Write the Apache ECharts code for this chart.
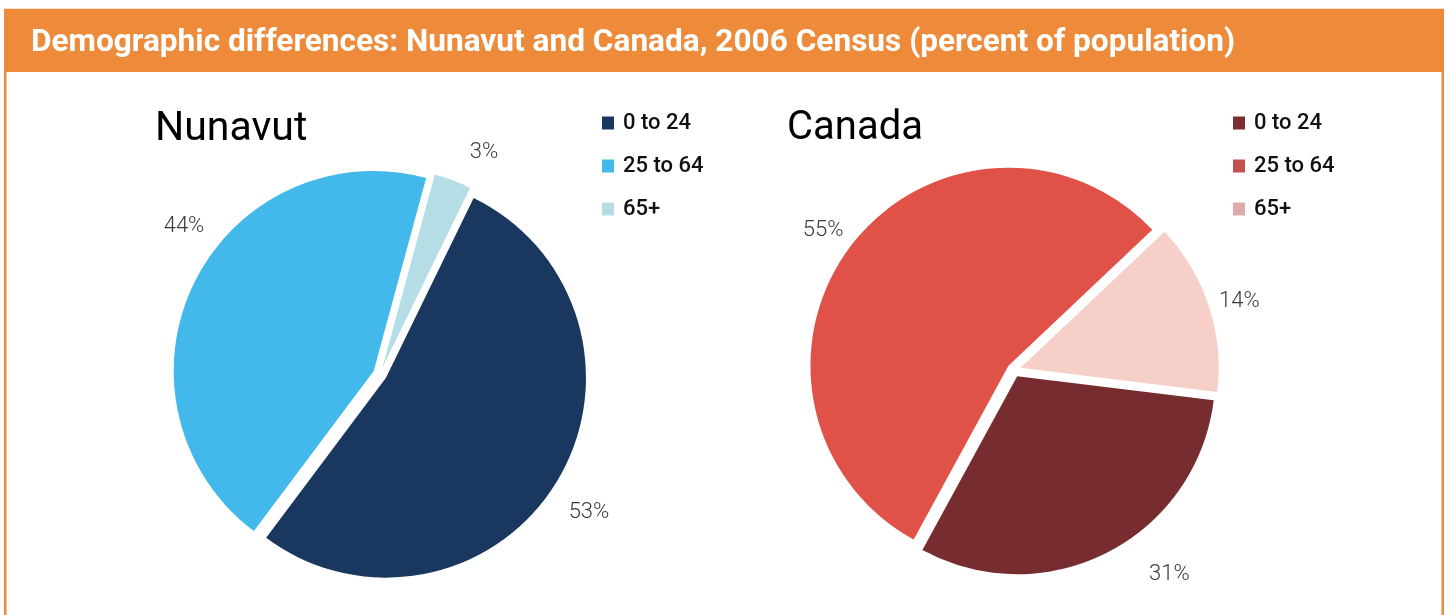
<!DOCTYPE html>
<html>
<head>
<meta charset="utf-8">
<script src="https://cdn.jsdelivr.net/npm/echarts@6/dist/echarts.min.js"></script>
<style>
  html, body { margin: 0; padding: 0; background: #fff; }
  #chart { width: 1450px; height: 615px; }
</style>
</head>
<body>
<div id="chart"></div>
<script>
// age groups and shares (percent of population), 2006 Census
var ageGroups = ['0 to 24', '25 to 64', '65+'];
var nunavutShare = [53, 44, 3];
var canadaShare = [31, 55, 14];

var nunavutColors = ['#19375F', '#42B9EA', '#B5DDE6'];
var canadaColors = ['#772D2F', '#E05248', '#F5CFC8'];
var canadaLegendColors = ['#7A2E30', '#C6504D', '#DCACAC'];

// small label nudges (px) so the percent labels sit where the original placed them
var nunavutLabelNudge = [[-5, 23], [28, -51], [7, -15]];
var canadaLabelNudge = [[30, 10], [8, -6], [-8, 0]];

var orange = '#EE8B3B';

function pieData(values, colors) {
	var out = [];
	for (var i = 0; i < ageGroups.length; i++) {
		out.push({
			name: ageGroups[i],
			value: values[i],
			selected: true,
			itemStyle: { color: colors[i] }
		});
	}
	return out;
}

function legendData(colors) {
	var out = [];
	for (var i = 0; i < ageGroups.length; i++) {
		out.push({ name: ageGroups[i], icon: 'rect', itemStyle: { color: colors[i] } });
	}
	return out;
}

function pieSeries(name, values, colors, nudge, center, radius, startAngle) {
	return {
		name: name,
		type: 'pie',
		center: center,
		radius: radius,
		startAngle: startAngle,
		clockwise: true,
		selectedMode: 'multiple',
		selectedOffset: 7,
		avoidLabelOverlap: false,
		silent: true,
		animation: false,
		emphasis: { scale: false },
		select: { itemStyle: { borderWidth: 0 } },
		label: {
			show: true,
			position: 'outside',
			formatter: '{c}%',
			color: '#3a3a3a',
			fontFamily: 'Roboto',
			fontWeight: 300,
			fontSize: 22
		},
		labelLine: { show: false, length: 14, length2: 0 },
		labelLayout: function (params) {
			var n = nudge[params.dataIndex];
			return { dx: n[0], dy: n[1] };
		},
		data: pieData(values, colors)
	};
}

var chart = echarts.init(document.getElementById('chart'));

var legendText = {
	color: '#111',
	fontFamily: 'Roboto',
	fontWeight: 500,
	fontSize: 22,
	lineHeight: 22,
	padding: [0, 0, 0, 4]
};

var option = {
	backgroundColor: '#fff',
	animation: false,
	graphic: [
		{
			type: 'rect',
			shape: { x: 4, y: 9, width: 1440, height: 63 },
			style: { fill: orange },
			z: 0
		},
		{
			type: 'rect',
			shape: { x: 5.25, y: 10, width: 1437.5, height: 640 },
			style: { fill: null, stroke: orange, lineWidth: 2.5 },
			z: 0
		}
	],
	title: [
		{
			text: 'Demographic differences: Nunavut and Canada, 2006 Census (percent of population)',
			left: 31,
			top: 27,
			padding: 0,
			textStyle: { color: '#fff', fontFamily: 'Roboto', fontWeight: 'bold', fontSize: 31.6 }
		},
		{
			text: 'Nunavut',
			left: 155,
			top: 109,
			padding: 0,
			textStyle: { color: '#000', fontFamily: 'Roboto', fontWeight: 'normal', fontSize: 41 }
		},
		{
			text: 'Canada',
			left: 787,
			top: 109,
			padding: 0,
			textStyle: { color: '#000', fontFamily: 'Roboto', fontWeight: 'normal', fontSize: 40 }
		}
	],
	legend: [
		{
			orient: 'vertical',
			left: 602,
			top: 112,
			padding: 0,
			itemWidth: 12,
			itemHeight: 13,
			itemGap: 21,
			selectedMode: false,
			textStyle: legendText,
			data: legendData(nunavutColors)
		},
		{
			orient: 'vertical',
			left: 1233,
			top: 112,
			padding: 0,
			itemWidth: 12,
			itemHeight: 13,
			itemGap: 21,
			selectedMode: false,
			textStyle: legendText,
			data: legendData(canadaLegendColors)
		}
	],
	series: [
		pieSeries('Nunavut', nunavutShare, nunavutColors, nunavutLabelNudge, [380, 374], 200, 64),
		pieSeries('Canada', canadaShare, canadaColors, canadaLabelNudge, [1014, 370], 198, -7)
	]
};

chart.setOption(option);
</script>
</body>
</html>
